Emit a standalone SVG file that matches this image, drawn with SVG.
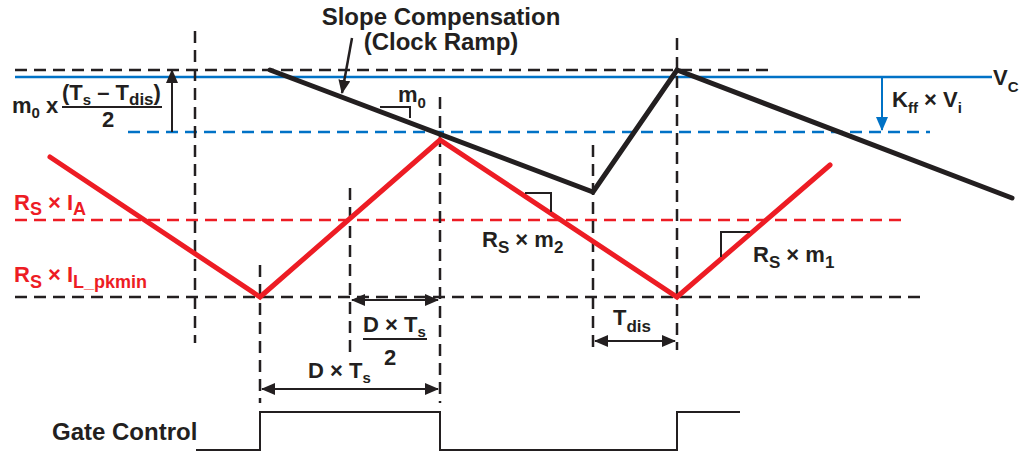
<svg xmlns="http://www.w3.org/2000/svg" width="1023" height="451" viewBox="0 0 1023 451">
<defs>
<style>
text{font-family:"Liberation Sans",Arial,sans-serif;font-weight:bold;font-size:22px;fill:#231F20}
.big{font-size:24px}
.red{fill:#ED1C24}
.sub{font-size:15px}
.sub17{font-size:17px}
.sub18{font-size:18px}
.dk{stroke:#231F20;stroke-width:2.5;stroke-dasharray:12 7;fill:none}
.dr{stroke:#ED1C24;stroke-width:2.5;stroke-dasharray:12 7;fill:none}
.db{stroke:#0072C6;stroke-width:2.5;stroke-dasharray:12 7;fill:none}
.thin{stroke:#231F20;stroke-width:2;fill:none}
.ramp{stroke:#231F20;stroke-width:5;fill:none;stroke-linecap:round;stroke-linejoin:miter}
.tri{stroke:#ED1C24;stroke-width:5;fill:none;stroke-linecap:round;stroke-linejoin:miter}
</style>
<marker id="ah" markerUnits="userSpaceOnUse" markerWidth="14" markerHeight="12" refX="13" refY="6" orient="auto-start-reverse"><path d="M0,0 L14,6 L0,12 Z" fill="#231F20"/></marker>
<marker id="ahb" markerUnits="userSpaceOnUse" markerWidth="14" markerHeight="12" refX="13" refY="6" orient="auto"><path d="M0,0 L14,6 L0,12 Z" fill="#0072C6"/></marker>
</defs>

<g id="grid">
<line class="dk" x1="15" y1="70" x2="775" y2="70"/>
<line x1="15" y1="77" x2="992" y2="77" stroke="#0072C6" stroke-width="2.5"/>
<line class="db" x1="128" y1="132" x2="930" y2="132"/>
<line class="dr" x1="15" y1="220" x2="905" y2="220"/>
<line class="dk" x1="15" y1="297" x2="925" y2="297"/>
<line class="dk" x1="195" y1="31" x2="195" y2="343"/>
<line class="dk" x1="260" y1="265" x2="260" y2="403"/>
<line class="dk" x1="350" y1="188" x2="350" y2="352"/>
<line class="dk" x1="440" y1="97" x2="440" y2="403"/>
<line class="dk" x1="593" y1="145" x2="593" y2="350"/>
<line class="dk" x1="677" y1="38" x2="677" y2="350"/>
</g>

<g id="ramp">
<polyline class="ramp" points="270,70 593,192 677,70 1012,198"/>
<polyline class="thin" points="380,107 410,107 410,118"/>
<text x="398" y="102">m<tspan class="sub" dy="6">0</tspan></text>
</g>

<g id="current">
<polyline class="tri" points="50,157 260,297 440,140 677,297 830,165"/>
<polyline class="thin" points="525,193 551,193 551,212"/>
<polyline class="thin" points="721,257 721,232 750,232"/>
</g>

<g id="slope-label">
<text class="big" x="441" y="25" text-anchor="middle">Slope Compensation</text>
<text class="big" x="441" y="50" text-anchor="middle">(Clock Ramp)</text>
</g>

<g id="connectors">
<line x1="352" y1="38" x2="342" y2="93" stroke="#231F20" stroke-width="2.5" marker-end="url(#ah)"/>
<line x1="172" y1="132" x2="172" y2="70" stroke="#231F20" stroke-width="2" marker-end="url(#ah)"/>
<line x1="882" y1="77" x2="882" y2="130" stroke="#0072C6" stroke-width="2" marker-end="url(#ahb)"/>
<line x1="352" y1="300" x2="438" y2="300" stroke="#231F20" stroke-width="2" marker-start="url(#ah)" marker-end="url(#ah)"/>
<line x1="262" y1="389" x2="438" y2="389" stroke="#231F20" stroke-width="2" marker-start="url(#ah)" marker-end="url(#ah)"/>
<line x1="595" y1="341" x2="675" y2="341" stroke="#231F20" stroke-width="2" marker-start="url(#ah)" marker-end="url(#ah)"/>
</g>

<g id="m0-label">
<text x="12" y="113">m<tspan class="sub" dy="5">0</tspan><tspan dy="-5"> x</tspan></text>
<text x="62" y="100">(T<tspan class="sub" dy="5">s</tspan><tspan dy="-5"> – T</tspan><tspan class="sub17" dy="5">dis</tspan><tspan dy="-5">)</tspan></text>
<line x1="62" y1="107" x2="162" y2="107" stroke="#231F20" stroke-width="2"/>
<text x="108" y="127" text-anchor="middle">2</text>
</g>

<g id="labels">
<text x="892" y="107">K<tspan class="sub" dy="6">ff</tspan><tspan dy="-6"> × V</tspan><tspan class="sub" dy="6">i</tspan></text>
<text x="993" y="85">V<tspan class="sub" dy="7">C</tspan></text>
<text class="red" x="14" y="210">R<tspan class="sub18" dy="5">S</tspan><tspan dy="-5"> × I</tspan><tspan class="sub18" dy="5">A</tspan></text>
<text class="red" x="14" y="282">R<tspan class="sub18" dy="6">S</tspan><tspan dy="-6"> × I</tspan><tspan class="sub18" dy="6">L_pkmin</tspan></text>
<text x="482" y="247">R<tspan class="sub17" dy="6">S</tspan><tspan dy="-6"> × m</tspan><tspan class="sub17" dy="6">2</tspan></text>
<text x="753" y="262">R<tspan class="sub17" dy="6">S</tspan><tspan dy="-6"> × m</tspan><tspan class="sub17" dy="6">1</tspan></text>
<text x="363" y="332">D × T<tspan class="sub" dy="5">s</tspan></text>
<line x1="363" y1="339" x2="427" y2="339" stroke="#231F20" stroke-width="2"/>
<text x="390" y="365" text-anchor="middle">2</text>
<text x="308" y="378">D × T<tspan class="sub" dy="5">s</tspan></text>
<text x="613" y="325">T<tspan class="sub17" dy="7">dis</tspan></text>
</g>

<g id="gate">
<text class="big" x="52" y="440">Gate Control</text>
<polyline class="thin" stroke-width="2.5" points="196,450 260,450 260,412 440,412 440,450 677,450 677,412 740,412"/>
</g>
</svg>
